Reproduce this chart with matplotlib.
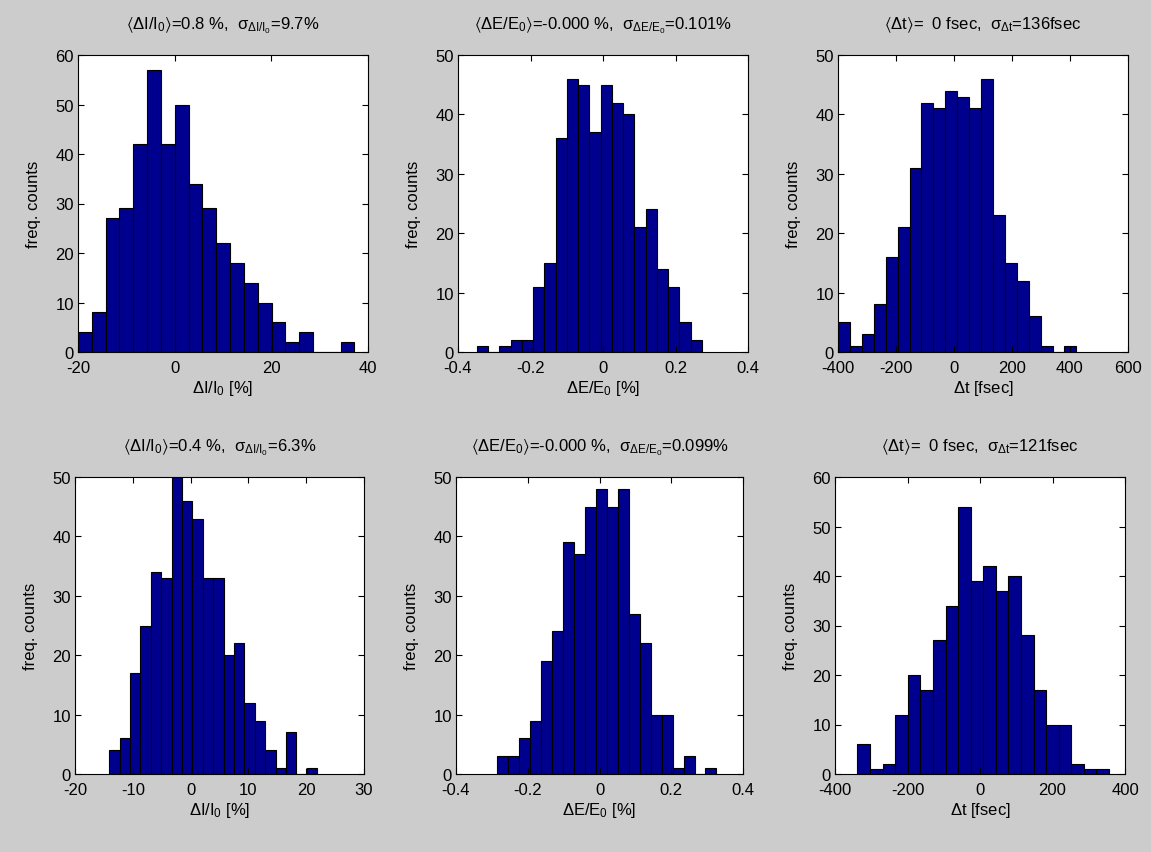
import numpy as np
import matplotlib
matplotlib.use("Agg")
import matplotlib.pyplot as plt

plt.rcParams["font.family"] = ["Liberation Sans", "DejaVu Sans"]
plt.rcParams["mathtext.fontset"] = "custom"
plt.rcParams["mathtext.rm"] = "Liberation Sans"
plt.rcParams["mathtext.it"] = "Liberation Sans"
plt.rcParams["mathtext.bf"] = "Liberation Sans:bold"
plt.rcParams["mathtext.fallback"] = "stixsans"

# histogram counts (20 bins each)
counts_I1 = [4, 8, 27, 29, 42, 57, 42, 50, 34, 29, 22, 18, 14, 10, 6, 2, 4, 0, 0, 2]
counts_E1 = [1, 0, 1, 2, 2, 11, 15, 36, 46, 45, 37, 45, 42, 40, 21, 24, 14, 11, 5, 2]
counts_t1 = [5, 1, 3, 8, 16, 21, 31, 42, 41, 44, 43, 41, 46, 23, 15, 12, 6, 1, 0, 1]
counts_I2 = [4, 6, 17, 25, 34, 33, 50, 46, 43, 33, 33, 20, 22, 12, 9, 4, 1, 7, 0, 1]
counts_E2 = [3, 3, 6, 9, 19, 24, 39, 37, 45, 48, 45, 48, 27, 22, 10, 10, 1, 3, 0, 1]
counts_t2 = [6, 1, 2, 12, 20, 17, 27, 34, 54, 39, 42, 37, 40, 28, 17, 10, 10, 2, 1, 1]

# data range covered by the bins (min, max)
range_I1 = (-20.0, 37.2)
range_E1 = (-0.348, 0.273)
range_t1 = (-400.0, 422.0)
range_I2 = (-14.1, 21.9)
range_E2 = (-0.285, 0.326)
range_t2 = (-338.0, 356.0)

titles = [
    r"$\langle\Delta I/I_0\rangle$=0.8 %,  $\sigma_{\Delta I/I_0}$=9.7%",
    r"$\langle\Delta E/E_0\rangle$=-0.000 %,  $\sigma_{\Delta E/E_0}$=0.101%",
    r"$\langle\Delta t\rangle$=  0 fsec,  $\sigma_{\Delta t}$=136fsec",
    r"$\langle\Delta I/I_0\rangle$=0.4 %,  $\sigma_{\Delta I/I_0}$=6.3%",
    r"$\langle\Delta E/E_0\rangle$=-0.000 %,  $\sigma_{\Delta E/E_0}$=0.099%",
    r"$\langle\Delta t\rangle$=  0 fsec,  $\sigma_{\Delta t}$=121fsec",
]
xlabels = [r"$\Delta I/I_0$ [%]", r"$\Delta E/E_0$ [%]", r"$\Delta t$ [fsec]"] * 2
xlims = [(-20, 40), (-0.4, 0.4), (-400, 600), (-20, 30), (-0.4, 0.4), (-400, 400)]
xticks = [[-20, 0, 20, 40], [-0.4, -0.2, 0, 0.2, 0.4], [-400, -200, 0, 200, 400, 600],
          [-20, -10, 0, 10, 20, 30], [-0.4, -0.2, 0, 0.2, 0.4], [-400, -200, 0, 200, 400]]
xticklabels = [["-20", "0", "20", "40"], ["-0.4", "-0.2", "0", "0.2", "0.4"],
               ["-400", "-200", "0", "200", "400", "600"],
               ["-20", "-10", "0", "10", "20", "30"], ["-0.4", "-0.2", "0", "0.2", "0.4"],
               ["-400", "-200", "0", "200", "400"]]
ymaxs = [60, 50, 50, 50, 50, 60]

all_counts = [counts_I1, counts_E1, counts_t1, counts_I2, counts_E2, counts_t2]
all_ranges = [range_I1, range_E1, range_t1, range_I2, range_E2, range_t2]

# axes boxes [left, bottom, width, height] in figure fraction
W, H = 1151, 853
boxes = [
    [78 / W, (H - 353) / H, 290 / W, 297 / H],
    [458 / W, (H - 353) / H, 290 / W, 297 / H],
    [838 / W, (H - 353) / H, 290 / W, 297 / H],
    [75 / W, (H - 775) / H, 289 / W, 297 / H],
    [456 / W, (H - 775) / H, 287 / W, 297 / H],
    [835 / W, (H - 775) / H, 290 / W, 297 / H],
]

fs = 12
fig = plt.figure(figsize=(11.51, 8.53), dpi=100, facecolor="#cccccc")

for i in range(6):
    ax = fig.add_axes(boxes[i])
    lo, hi = all_ranges[i]
    edges = np.linspace(lo, hi, len(all_counts[i]) + 1)
    centers = 0.5 * (edges[:-1] + edges[1:])
    ax.hist(centers, bins=edges, weights=all_counts[i], color="#00008f",
            edgecolor="black", linewidth=0.8)
    ax.set_xlim(*xlims[i])
    ax.set_ylim(0, ymaxs[i])
    ax.set_xticks(xticks[i])
    ax.set_xticklabels(xticklabels[i])
    ax.set_yticks(range(0, ymaxs[i] + 1, 10))
    ax.tick_params(direction="in", length=4, width=0.8, top=True, right=True,
                   labelsize=fs)
    ax.tick_params(axis="x", pad=6)
    ax.tick_params(axis="y", pad=3)
    for s in ax.spines.values():
        s.set_linewidth(0.8)
    ax.set_title(titles[i], fontsize=fs, pad=19)
    ax.set_xlabel(xlabels[i], fontsize=fs, labelpad=2)
    ax.set_ylabel("freq. counts", fontsize=fs, labelpad=10)

fig.savefig("out.png", dpi=100, facecolor=fig.get_facecolor())
